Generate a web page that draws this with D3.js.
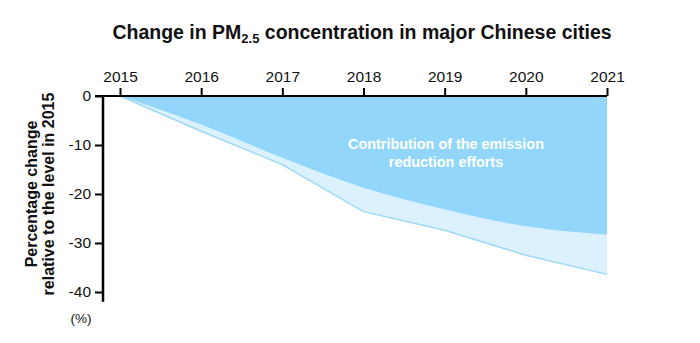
<!DOCTYPE html>
<html>
<head>
<meta charset="utf-8">
<script src="https://cdn.jsdelivr.net/npm/d3@7"></script>
<style>
  body { margin: 0; background: #fff; }
  svg { font-family: "Liberation Sans", Arial, Helvetica, sans-serif; }
</style>
</head>
<body>
<svg id="chart" width="700" height="343"></svg>
<script>
// data (% change vs 2015)
const years = [2015, 2016, 2017, 2018, 2019, 2020, 2021];
const observed = [0, -7.2, -14.0, -23.6, -27.4, -32.5, -36.4];
const emission = [0, -5.8, -12.6, -18.7, -23.1, -26.6, -28.3];
const yTicks = [0, -10, -20, -30, -40];

const rows = years.map((yr, i) => ({ year: yr, obs: observed[i], emi: emission[i] }));

const svg = d3.select("#chart");

const x = d3.scaleLinear().domain([2015, 2021]).range([120, 607]);
const y = d3.scaleLinear().domain([0, -40]).range([96, 292]);

// title with subscript
const title = svg.append("text")
  .attr("x", 362).attr("y", 39)
  .attr("text-anchor", "middle")
  .attr("font-size", 19.5).attr("font-weight", "bold")
  .attr("fill", "#111");
title.append("tspan").text("Change in PM");
title.append("tspan").text("2.5").attr("font-size", 13).attr("dy", 4);
title.append("tspan").text(" concentration in major Chinese cities").attr("dy", -4);

// light area down to the observed change (dark one is painted over it)
const light = d3.area()
  .x(d => x(d.year))
  .y0(y(0))
  .y1(d => y(d.obs));

svg.append("path").datum(rows)
  .attr("d", light)
  .attr("fill", "#dbf2fe");

// dark part: from 0 down to emission line
const dark = d3.area()
  .x(d => x(d.year))
  .y0(y(0))
  .y1(d => y(d.emi))
  .curve(d3.curveMonotoneX);

svg.append("path").datum(rows)
  .attr("d", dark)
  .attr("fill", "#92d7fb");

// observed line
svg.append("path").datum(rows)
  .attr("d", d3.line().x(d => x(d.year)).y(d => y(d.obs)))
  .attr("fill", "none")
  .attr("stroke", "#9fd8f6")
  .attr("stroke-width", 1.5)
  .attr("stroke-linejoin", "round");

// annotation
const note = svg.append("text")
  .attr("text-anchor", "middle")
  .attr("font-size", 14.4).attr("font-weight", "bold")
  .attr("fill", "#fff");
note.append("tspan").attr("x", 446).attr("y", 149).text("Contribution of the emission");
note.append("tspan").attr("x", 446).attr("y", 167).text("reduction efforts");

// x axis on top
const xAxis = svg.append("g")
  .attr("transform", `translate(0,${y(0)})`)
  .call(d3.axisTop(x).tickValues(years).tickFormat(d3.format("d")).tickSize(8).tickSizeOuter(0));
xAxis.select(".domain").remove();
xAxis.selectAll(".tick line").attr("stroke", "#000").attr("stroke-width", 2);
xAxis.selectAll(".tick text").attr("font-size", 15.5).attr("fill", "#111").attr("dy", "-0.2em");

svg.append("line")
  .attr("x1", 95).attr("x2", x(2021))
  .attr("y1", y(0)).attr("y2", y(0))
  .attr("stroke", "#000").attr("stroke-width", 2);

// y axis
const yAxis = svg.append("g")
  .attr("transform", "translate(103,0)")
  .call(d3.axisLeft(y).tickValues(yTicks).tickFormat(d => String(d)).tickSize(8).tickSizeOuter(0));
yAxis.select(".domain").remove();
yAxis.selectAll(".tick line").attr("stroke", "#000").attr("stroke-width", 2);
yAxis.selectAll(".tick text").attr("font-size", 15.5).attr("fill", "#111").attr("x", -12);

svg.append("line")
  .attr("x1", 103).attr("x2", 103)
  .attr("y1", y(0) - 1).attr("y2", y(-42))
  .attr("stroke", "#000").attr("stroke-width", 2.5);

// y label
const ylab = svg.append("text")
  .attr("transform", "translate(0,194) rotate(-90)")
  .attr("text-anchor", "middle")
  .attr("font-size", 16).attr("font-weight", "bold")
  .attr("fill", "#111");
ylab.append("tspan").attr("x", 0).attr("y", 37).text("Percentage change");
ylab.append("tspan").attr("x", 0).attr("y", 54).text("relative to the level in 2015");

svg.append("text")
  .attr("x", 81).attr("y", 323)
  .attr("text-anchor", "middle")
  .attr("font-size", 13.5)
  .attr("fill", "#111")
  .text("(%)");
</script>
</body>
</html>
